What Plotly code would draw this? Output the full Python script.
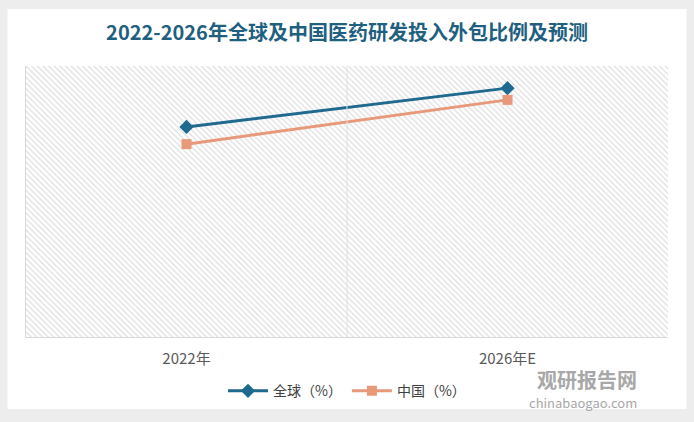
import plotly.graph_objects as go

categories = ["2022年", "2026年E"]
global_pct = [46.5, 55.1]
china_pct = [42.7, 52.5]
y_max = 60

fig = go.Figure()

# hatched background bars covering plot area
fig.add_trace(go.Bar(
    x=categories, y=[y_max, y_max], width=1, showlegend=False, hoverinfo="skip",
    marker=dict(color="white", line=dict(width=0),
                pattern=dict(shape="\\", size=4, solidity=0.3, fgcolor="#bdbdbd", bgcolor="white")),
))

fig.add_trace(go.Scatter(
    x=categories, y=global_pct, name="全球（%）", mode="lines+markers",
    line=dict(color="#1f6a8e", width=3),
    marker=dict(symbol="diamond", size=11, color="#1f6a8e"),
))
fig.add_trace(go.Scatter(
    x=categories, y=china_pct, name="中国（%）", mode="lines+markers",
    line=dict(color="#e8997a", width=3),
    marker=dict(symbol="square", size=10, color="#e8997a"),
))

fig.update_layout(
    width=694, height=422,
    margin=dict(l=26, r=26, t=66, b=85),
    paper_bgcolor="#ededed",
    plot_bgcolor="white",
    bargap=0,
    font=dict(family="Noto Sans CJK SC, sans-serif", color="#595959"),
    title=dict(text="<b>2022-2026年全球及中国医药研发投入外包比例及预测</b>",
               x=0.5, xanchor="center", y=0.922, yanchor="middle",
               font=dict(size=20, color="#1f5f7f", family="Noto Sans CJK SC")),
    showlegend=True,
    legend=dict(orientation="h", x=0.5, xanchor="center", y=-0.2, yanchor="middle",
                font=dict(size=14, color="#404040"), traceorder="normal",
                itemwidth=40, bgcolor="rgba(0,0,0,0)"),
    xaxis=dict(type="category", range=[-0.5, 1.5], showgrid=False, showline=True,
               linecolor="#d9d9d9", linewidth=1, ticks="",
               tickfont=dict(size=15, color="#595959"), ticklabelstandoff=8),
    yaxis=dict(range=[0, y_max], showgrid=False, showticklabels=False, zeroline=False,
               showline=True, linecolor="#d9d9d9", linewidth=1, ticks=""),
    shapes=[
        dict(type="rect", xref="paper", yref="paper", x0=-0.0288, x1=1.0288, y0=-0.266, y1=1.21,
             fillcolor="white", line=dict(width=0), layer="below"),
        dict(type="line", xref="x", yref="paper", x0=0.5, x1=0.5, y0=0, y1=1,
             line=dict(color="#e0e0e0", width=1), layer="above"),
    ],
    annotations=[
        dict(text="<b>观研报告网</b>", xref="paper", yref="paper", x=0.955, y=-0.155,
             xanchor="right", yanchor="middle", showarrow=False,
             font=dict(size=20, color="#a8a8a8")),
        dict(text="chinabaogao.com", xref="paper", yref="paper", x=0.955, y=-0.2435,
             xanchor="right", yanchor="middle", showarrow=False,
             font=dict(size=13, color="#a8a8a8")),
    ],
)

fig.write_html("out.html")
